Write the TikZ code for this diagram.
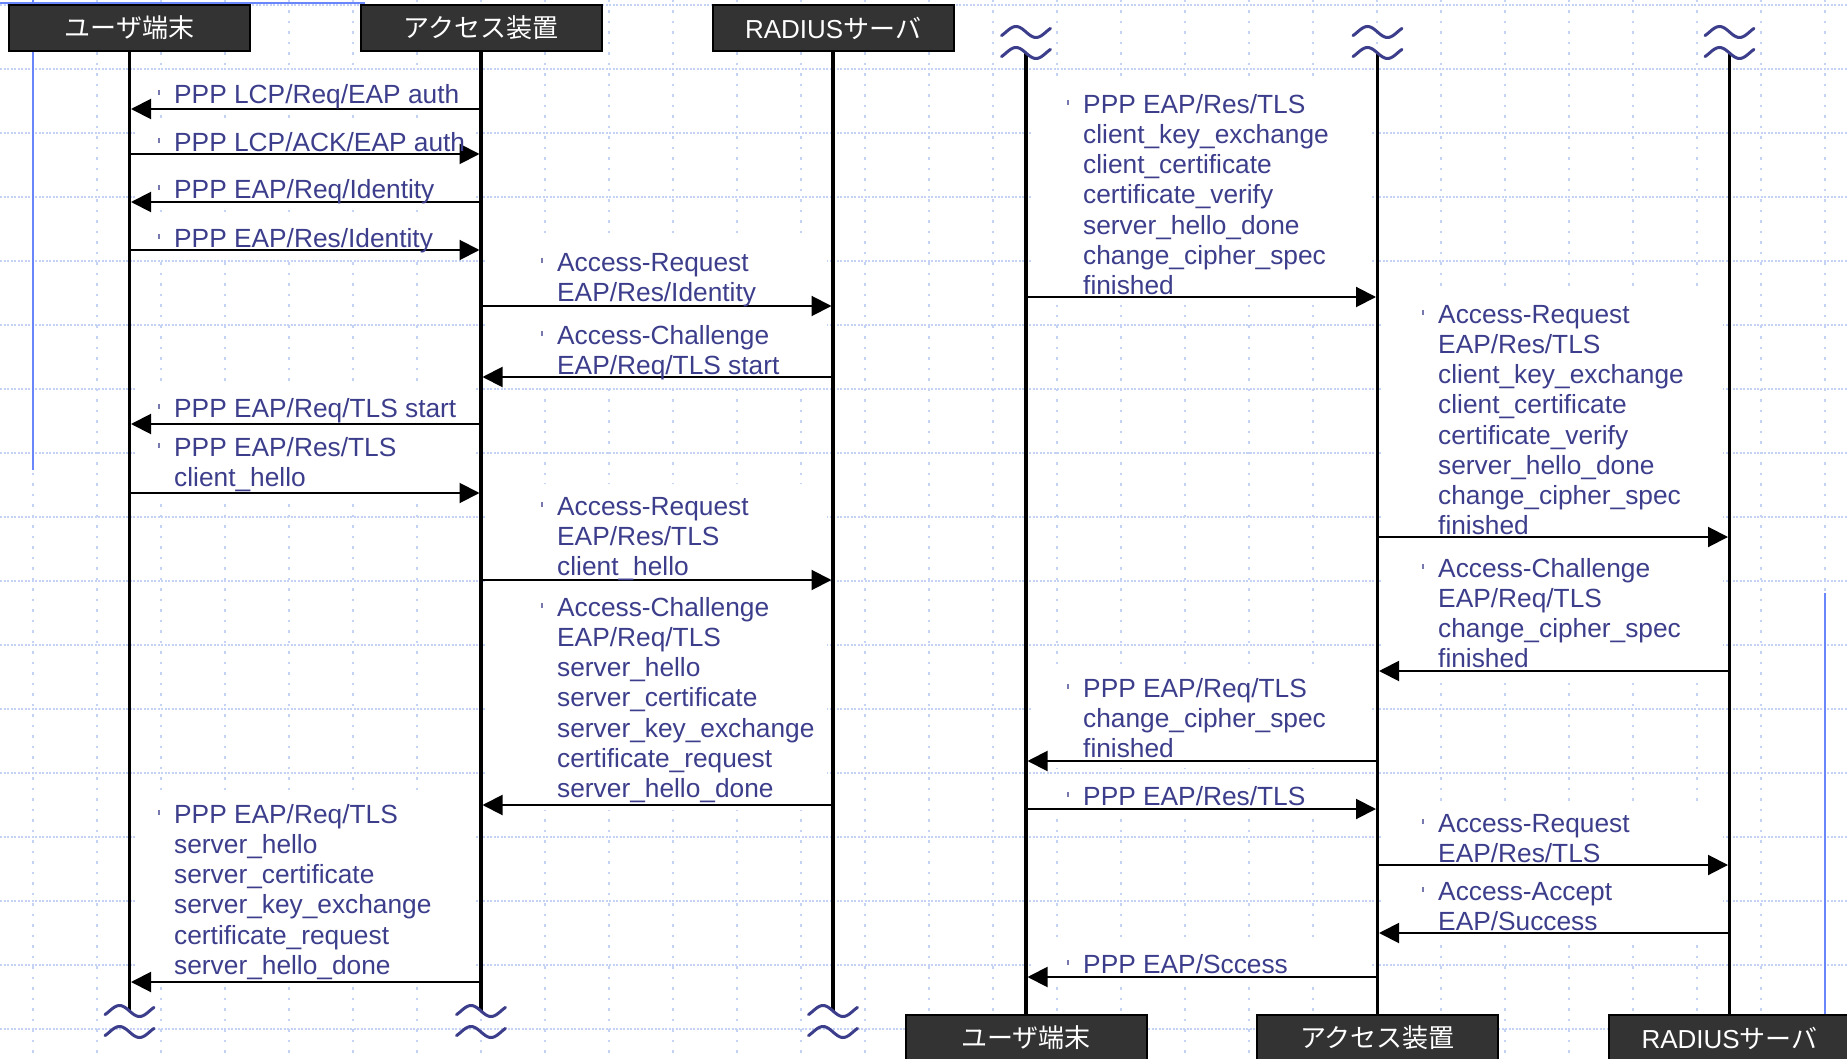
\documentclass[tikz,border=0pt]{standalone}
\usepackage{fontspec}
\setmainfont{Liberation Sans}
\newfontfamily\cjk{Noto Sans CJK JP}
\usetikzlibrary{arrows.meta}
\definecolor{txt}{RGB}{60,62,140}
\definecolor{gridc}{RGB}{195,210,245}
\definecolor{guide}{RGB}{105,135,250}
\definecolor{hdrfill}{RGB}{51,51,51}
\newcommand\bul{\llap{\textcolor{txt!70}{\rule[8.5pt]{2.4pt}{4.5pt}}\hspace{14pt}}}
\begin{document}
\begin{tikzpicture}[x=1pt,y=-1pt,
  gridh/.style={gridc, line width=1.2pt, dash pattern=on 2pt off 1.5pt},
  gridv/.style={gridc, line width=1.2pt, dash pattern=on 2.5pt off 8pt},
  guideline/.style={guide, line width=1.5pt},
  mask/.style={fill=white},
  life/.style={line width=3.5pt, black},
  msg/.style={line width=2pt, black, -{Triangle[length=20pt,width=20pt]}, shorten >=1.5pt},
  lbl/.style={anchor=north west, inner sep=0pt, align=left, text=txt, font=\fontsize{26.3}{30.2}\selectfont},
  hdr/.style={draw=black, line width=2pt, fill=hdrfill, text=white, minimum width=241pt, minimum height=46pt, inner sep=0pt, font=\fontsize{26}{30}\selectfont},
  brk/.pic={\draw[txt, line width=3pt, line cap=round] plot[domain=-24.5:24.5, samples=41, smooth] (\x, {5.5*sin(9*\x)});}
]
\useasboundingbox (0,0) rectangle (1847,1059);
\clip (0,0) rectangle (1847,1059);
\fill[white] (0,0) rectangle (1847,1059);
% grid
\foreach \k in {0,...,16} \draw[gridh] (0,5+64*\k) -- (1847,5+64*\k);
\foreach \k in {0,...,28} \draw[gridv] (33+64*\k,0) -- (33+64*\k,1059);
% guides
\draw[guideline] (0,3) -- (365,3);
\draw[guideline] (33,0) -- (33,470);
\draw[guideline] (1825,593) -- (1825,1059);
% masks behind labels
\fill[mask] (134.5,72) rectangle (475,114);
\fill[mask] (134.5,120) rectangle (475,162);
\fill[mask] (134.5,167) rectangle (475,209);
\fill[mask] (134.5,216) rectangle (475,258);
\fill[mask] (134.5,386) rectangle (475,428);
\fill[mask] (134.5,425) rectangle (475,498);
\fill[mask] (134.5,792) rectangle (475,985);
\fill[mask] (486,240) rectangle (827,313);
\fill[mask] (486,313) rectangle (827,385);
\fill[mask] (486,484) rectangle (827,586);
\fill[mask] (486,585) rectangle (827,810);
\fill[mask] (1031,82) rectangle (1371.5,305);
\fill[mask] (1031,666) rectangle (1371.5,768);
\fill[mask] (1031,774) rectangle (1371.5,816);
\fill[mask] (1031,942) rectangle (1371.5,984);
\fill[mask] (1382.5,292) rectangle (1723,545);
\fill[mask] (1382.5,546) rectangle (1723,679);
\fill[mask] (1382.5,801) rectangle (1723,873);
\fill[mask] (1382.5,869) rectangle (1723,941);
% headers
\node[hdr] (usrT) at (129.5,28) {\cjk ユーザ端末};
\node[hdr] (accT) at (481,28) {\cjk アクセス装置};
\node[hdr] (radT) at (833,28) {RADIUS\cjk サーバ};
\node[hdr] (usrB) at (1026,1038) {\cjk ユーザ端末};
\node[hdr] (accB) at (1377.5,1038) {\cjk アクセス装置};
\node[hdr] (radB) at (1729.5,1038) {RADIUS\cjk サーバ};
% lifelines
\draw[life] (usrT.south) -- (usrT |- 0,1011);
\draw[life] (accT.south) -- (accT |- 0,1011);
\draw[life] (radT.south) -- (radT |- 0,1011);
\draw[life] (usrB |- 0,53) -- (usrB.north);
\draw[life] (accB |- 0,53) -- (accB.north);
\draw[life] (radB |- 0,53) -- (radB.north);
% breaks
\pic at (usrT |- 0,1011) {brk};
\pic at (usrT |- 0,1032) {brk};
\pic at (accT |- 0,1011) {brk};
\pic at (accT |- 0,1032) {brk};
\pic at (radT |- 0,1011) {brk};
\pic at (radT |- 0,1032) {brk};
\pic at (usrB |- 0,32) {brk};
\pic at (usrB |- 0,53) {brk};
\pic at (accB |- 0,32) {brk};
\pic at (accB |- 0,53) {brk};
\pic at (radB |- 0,32) {brk};
\pic at (radB |- 0,53) {brk};
% messages, left half
\draw[msg] (accT |- 0,109) -- (usrT |- 0,109);
\draw[msg] (usrT |- 0,154) -- (accT |- 0,154);
\draw[msg] (accT |- 0,202) -- (usrT |- 0,202);
\draw[msg] (usrT |- 0,250) -- (accT |- 0,250);
\draw[msg] (accT |- 0,306) -- (radT |- 0,306);
\draw[msg] (radT |- 0,377) -- (accT |- 0,377);
\draw[msg] (accT |- 0,424) -- (usrT |- 0,424);
\draw[msg] (usrT |- 0,493) -- (accT |- 0,493);
\draw[msg] (accT |- 0,580) -- (radT |- 0,580);
\draw[msg] (radT |- 0,805) -- (accT |- 0,805);
\draw[msg] (accT |- 0,982) -- (usrT |- 0,982);
% messages, right half
\draw[msg] (usrB |- 0,297) -- (accB |- 0,297);
\draw[msg] (accB |- 0,537) -- (radB |- 0,537);
\draw[msg] (radB |- 0,671) -- (accB |- 0,671);
\draw[msg] (accB |- 0,761) -- (usrB |- 0,761);
\draw[msg] (usrB |- 0,809) -- (accB |- 0,809);
\draw[msg] (accB |- 0,865) -- (radB |- 0,865);
\draw[msg] (radB |- 0,933) -- (accB |- 0,933);
\draw[msg] (accB |- 0,977) -- (usrB |- 0,977);
% labels
\node[lbl] (t1) at (174,81.86) {\strut\bul PPP LCP/Req/EAP auth};
\node[lbl] (t2) at (174,129.86) {\strut\bul PPP LCP/ACK/EAP auth};
\node[lbl] (t3) at (174,176.86) {\strut\bul PPP EAP/Req/Identity};
\node[lbl] (t4) at (174,225.86) {\strut\bul PPP EAP/Res/Identity};
\node[lbl] (t5) at (557,249.86) {\strut\bul Access-Request\\EAP/Res/Identity};
\node[lbl] (t6) at (557,322.86) {\strut\bul Access-Challenge\\EAP/Req/TLS start};
\node[lbl] (t7) at (174,395.86) {\strut\bul PPP EAP/Req/TLS start};
\node[lbl] (t8) at (174,434.86) {\strut\bul PPP EAP/Res/TLS\\client\_hello};
\node[lbl] (t9) at (557,493.86) {\strut\bul Access-Request\\EAP/Res/TLS\\client\_hello};
\node[lbl] (t10) at (557,594.86) {\strut\bul Access-Challenge\\EAP/Req/TLS\\server\_hello\\server\_certificate\\server\_key\_exchange\\certificate\_request\\server\_hello\_done};
\node[lbl] (t11) at (174,801.86) {\strut\bul PPP EAP/Req/TLS\\server\_hello\\server\_certificate\\server\_key\_exchange\\certificate\_request\\server\_hello\_done};
\node[lbl] (t12) at (1083,91.86) {\strut\bul PPP EAP/Res/TLS\\client\_key\_exchange\\client\_certificate\\certificate\_verify\\server\_hello\_done\\change\_cipher\_spec\\finished};
\node[lbl] (t13) at (1438,301.86) {\strut\bul Access-Request\\EAP/Res/TLS\\client\_key\_exchange\\client\_certificate\\certificate\_verify\\server\_hello\_done\\change\_cipher\_spec\\finished};
\node[lbl] (t14) at (1438,555.86) {\strut\bul Access-Challenge\\EAP/Req/TLS\\change\_cipher\_spec\\finished};
\node[lbl] (t15) at (1083,675.86) {\strut\bul PPP EAP/Req/TLS\\change\_cipher\_spec\\finished};
\node[lbl] (t16) at (1083,783.86) {\strut\bul PPP EAP/Res/TLS};
\node[lbl] (t17) at (1438,810.86) {\strut\bul Access-Request\\EAP/Res/TLS};
\node[lbl] (t18) at (1438,878.86) {\strut\bul Access-Accept\\EAP/Success};
\node[lbl] (t19) at (1083,951.86) {\strut\bul PPP EAP/Sccess};
\end{tikzpicture}
\end{document}
